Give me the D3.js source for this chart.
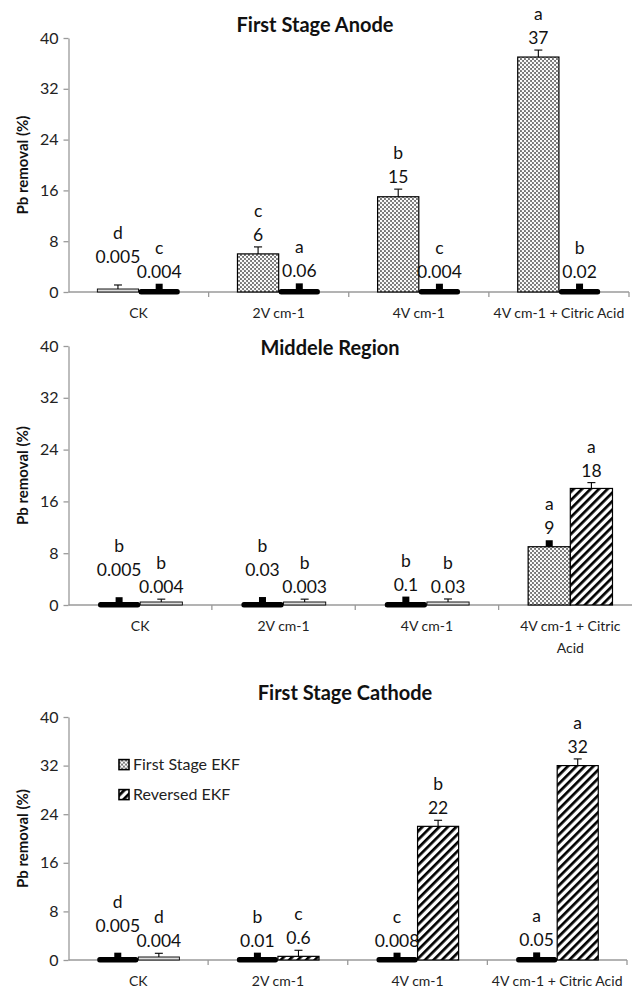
<!DOCTYPE html>
<html>
<head>
<meta charset="utf-8">
<script src="https://cdn.jsdelivr.net/npm/d3@7"></script>
<style>
  body { margin: 0; background: #fff; }
  text { font-family: Lato, "Open Sans", sans-serif; }
</style>
</head>
<body>
<svg id="chart"></svg>
<script>
// ---- data ----
var categories = ['CK', '2V cm-1', '4V cm-1', '4V cm-1 + Citric Acid'];
var seriesNames = ['First Stage EKF', 'Reversed EKF'];
var panelTitles = ['First Stage Anode', 'Middele Region', 'First Stage Cathode'];

var firstStage = [
  [0.005, 6, 15, 37],
  [0.005, 0.03, 0.1, 9],
  [0.005, 0.01, 0.008, 0.05]
];
var reversed = [
  [0.004, 0.06, 0.004, 0.02],
  [0.004, 0.003, 0.03, 18],
  [0.004, 0.6, 22, 32]
];
var firstStageErr = [
  [1.1, 1.1, 1.2, 1.1],
  [1.2, 1.2, 1.2, 1],
  [1.2, 1.2, 1.2, 1.2]
];
var reversedErr = [
  [1.3, 1.3, 1.3, 1.3],
  [0.9, 0.9, 0.9, 0.9],
  [1.1, 1, 1, 1.1]
];
var firstStageLetters = [['d', 'c', 'b', 'a'], ['b', 'b', 'b', 'a'], ['d', 'b', 'c', 'a']];
var reversedLetters = [['c', 'a', 'c', 'b'], ['b', 'b', 'b', 'a'], ['d', 'c', 'b', 'a']];
var yTicks = [0, 8, 16, 24, 32, 40];

// ---- layout ----
var panels = [
  {top: 38, bottom: 292, right: 629, titleX: 315, titleY: 32, cap: ['T', 'box'], wrap: 0},
  {top: 346, bottom: 605, right: 642, titleX: 330, titleY: 355, cap: ['box', 'T'], wrap: 125},
  {top: 717, bottom: 960, right: 627, titleX: 345, titleY: 700, cap: ['box', 'T'], wrap: 0, legend: true}
];
var axisX = 68.5;
var fills = ['url(#dots)', 'url(#hatch)'];

var svg = d3.select('#chart').attr('width', 632).attr('height', 990);

var defs = svg.append('defs');
var dots = defs.append('pattern').attr('id', 'dots')
    .attr('patternUnits', 'userSpaceOnUse').attr('width', 4).attr('height', 4);
dots.append('rect').attr('width', 4).attr('height', 4).attr('fill', '#747474');
dots.append('circle').attr('cx', 1).attr('cy', 1).attr('r', 1.2).attr('fill', '#fff');
dots.append('circle').attr('cx', 3).attr('cy', 3).attr('r', 1.2).attr('fill', '#fff');

var hatch = defs.append('pattern').attr('id', 'hatch')
    .attr('patternUnits', 'userSpaceOnUse').attr('width', 6).attr('height', 6)
    .attr('patternTransform', 'rotate(45)');
hatch.append('rect').attr('width', 6).attr('height', 6).attr('fill', '#fff');
hatch.append('rect').attr('width', 2.7).attr('height', 6).attr('fill', '#000');

function wrapText(sel, width) {
  sel.each(function() {
    var t = d3.select(this);
    var words = t.text().split(' ');
    var xx = t.attr('x'), yy = t.attr('y');
    t.text(null);
    var line = [], n = 0;
    var span = t.append('tspan').attr('x', xx).attr('y', yy);
    words.forEach(function(w) {
      line.push(w);
      span.text(line.join(' '));
      if (span.node().getComputedTextLength() > width && line.length > 1) {
        line.pop();
        span.text(line.join(' '));
        line = [w];
        n++;
        span = t.append('tspan').attr('x', xx).attr('y', +yy + n * 22).text(w);
      }
    });
  });
}

panels.forEach(function(p, i) {
  var g = svg.append('g');
  var vals = [firstStage[i], reversed[i]];
  var errs = [firstStageErr[i], reversedErr[i]];
  var letters = [firstStageLetters[i], reversedLetters[i]];

  var x = d3.scaleBand().domain(categories).range([axisX, p.right]);
  var xs = d3.scaleBand().domain([0, 1]).range([0, x.bandwidth()]).paddingOuter(0.7);
  var y = d3.scaleLinear().domain([0, 40]).range([p.bottom, p.top]);

  // title
  g.append('text').attr('x', p.titleX).attr('y', p.titleY)
    .attr('text-anchor', 'middle').style('font-size', '20px').style('font-weight', 'bold')
    .attr('fill', '#111').text(panelTitles[i]);

  // y axis
  var ya = g.append('g').attr('transform', 'translate(' + axisX + ',0)')
    .call(d3.axisLeft(y).tickValues(yTicks).tickSize(5).tickSizeOuter(0).tickPadding(5));
  ya.selectAll('path, line').attr('stroke', '#9a9a9a').attr('stroke-width', 1.3);
  ya.selectAll('text').attr('fill', '#222').style('font-size', '16px')
    .style('font-family', 'Lato, sans-serif');

  g.append('text')
    .attr('transform', 'translate(28,' + ((p.top + p.bottom) / 2) + ') rotate(-90)')
    .attr('text-anchor', 'middle').style('font-size', '15px').style('font-weight', 'bold')
    .attr('fill', '#111').text('Pb removal (%)');

  // x axis
  g.append('line').attr('x1', axisX).attr('x2', p.right)
    .attr('y1', y(0)).attr('y2', y(0)).attr('stroke', '#9a9a9a').attr('stroke-width', 1.6);
  categories.forEach(function(c) {
    var bx = x(c) + x.bandwidth();
    g.append('line').attr('x1', bx).attr('x2', bx).attr('y1', y(0)).attr('y2', y(0) + 5)
      .attr('stroke', '#9a9a9a').attr('stroke-width', 1.3);
  });
  var xl = g.selectAll('.xlab').data(categories).enter().append('text')
    .attr('class', 'xlab')
    .attr('x', function(d) { return x(d) + x.bandwidth() / 2; })
    .attr('y', y(0) + 26)
    .attr('text-anchor', 'middle').style('font-size', '14px').attr('fill', '#222')
    .text(function(d) { return d; });
  if (p.wrap) wrapText(xl, p.wrap);

  // bars, error bars, labels
  categories.forEach(function(c, j) {
    var labelY = [];
    [0, 1].forEach(function(s) {
      var v = vals[s][j], e = errs[s][j];
      var bx = x(c) + xs(s), bw = xs.bandwidth(), cx = bx + bw / 2;
      var h = y(0) - y(v);
      var barTop = y(v);
      if (h >= 2) {
        g.append('rect').attr('x', bx).attr('y', y(v)).attr('width', bw).attr('height', h)
          .attr('fill', fills[s]).attr('stroke', '#000').attr('stroke-width', 1.2);
      } else if (p.cap[s] === 'box') {
        g.append('rect').attr('x', bx).attr('y', y(0) - 3).attr('width', bw).attr('height', 5.5)
          .attr('rx', 2.5).attr('fill', '#000');
        barTop = y(0) - 3;
      } else {
        g.append('rect').attr('x', bx).attr('y', y(0) - 3).attr('width', bw).attr('height', 3)
          .attr('fill', '#ddd').attr('stroke', '#000').attr('stroke-width', 0.9);
        barTop = y(0) - 3;
      }
      var et = y(v + e);
      if (p.cap[s] === 'box') {
        g.append('rect').attr('x', cx - 3.5).attr('y', et).attr('width', 7)
          .attr('height', Math.max(barTop - et, 2)).attr('fill', '#000');
      } else {
        g.append('line').attr('x1', cx).attr('x2', cx).attr('y1', barTop).attr('y2', et)
          .attr('stroke', '#000').attr('stroke-width', 1.1);
        g.append('line').attr('x1', cx - 4).attr('x2', cx + 4).attr('y1', et).attr('y2', et)
          .attr('stroke', '#000').attr('stroke-width', 1.1);
      }
      labelY[s] = et - 6;
    });

    // stagger the labels of neighbouring small bars so they don't collide
    var txt = [String(vals[0][j]), String(vals[1][j])];
    var halfW = txt.map(function(t) { return t.length * 5; });
    if (Math.abs(labelY[0] - labelY[1]) < 14 && halfW[0] + halfW[1] + 4 > xs.step()) {
      labelY[0] = Math.min(labelY[0], labelY[1]) - 15;
    }

    [0, 1].forEach(function(s) {
      var cx = x(c) + xs(s) + xs.bandwidth() / 2;
      g.append('text').attr('x', cx).attr('y', labelY[s]).attr('text-anchor', 'middle')
        .style('font-size', '17.5px').attr('fill', '#111').text(txt[s]);
      g.append('text').attr('x', cx).attr('y', labelY[s] - 24).attr('text-anchor', 'middle')
        .style('font-size', '17.5px').attr('fill', '#111').text(letters[s][j]);
    });
  });

  // legend
  if (p.legend) {
    var lg = g.append('g').attr('transform', 'translate(119,' + (y(32) - 6) + ')');
    seriesNames.forEach(function(n, k) {
      lg.append('rect').attr('x', 0).attr('y', k * 30).attr('width', 10).attr('height', 10)
        .attr('fill', fills[k]).attr('stroke', '#000').attr('stroke-width', 1.6);
      lg.append('text').attr('x', 14).attr('y', k * 30 + 10)
        .style('font-size', '16px').attr('fill', '#222').text(n);
    });
  }
});
</script>
</body>
</html>
